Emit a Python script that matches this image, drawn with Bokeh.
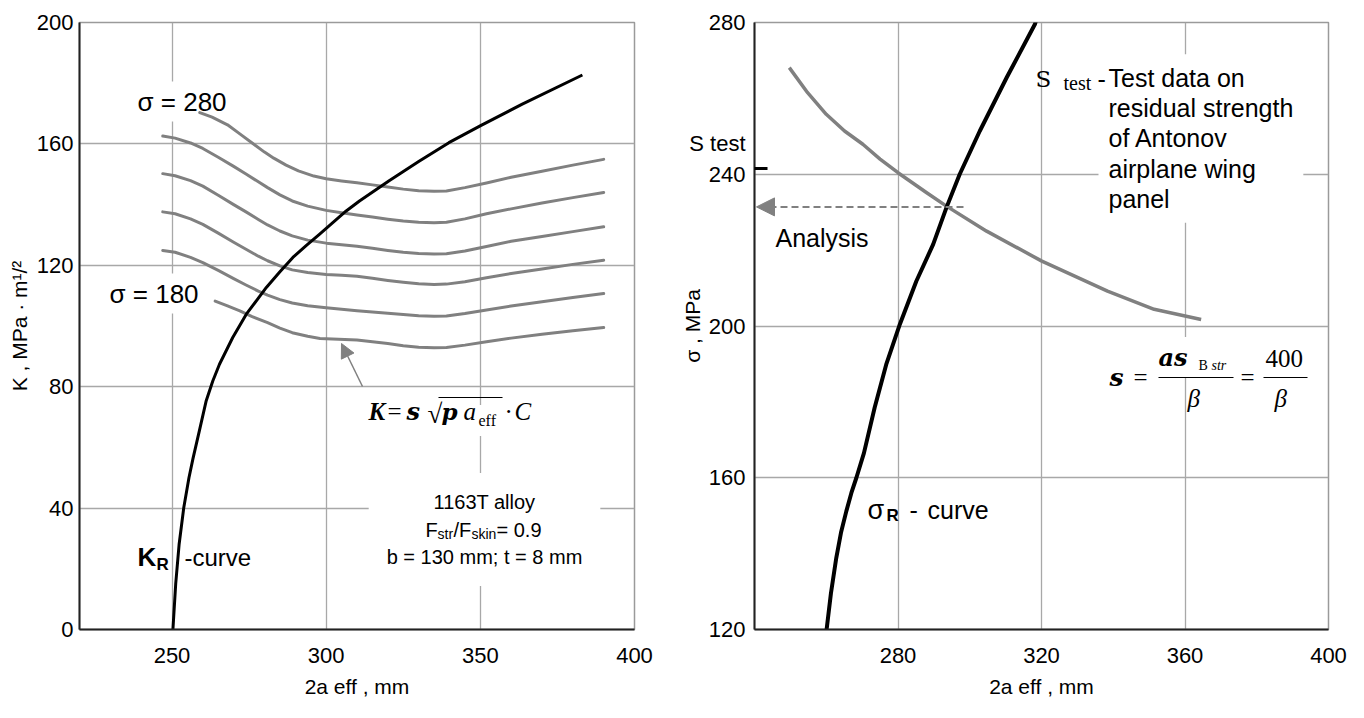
from bokeh.plotting import figure
from bokeh.layouts import row
from bokeh.models import FixedTicker, Arrow, NormalHead, Range1d
from bokeh.embed import file_html
from bokeh.resources import INLINE
from bokeh.core.properties import value

SANS = "Liberation Sans"
SERIF = "Liberation Serif"
DSERIF = "DejaVu Serif"
GRAY = "#808080"
GRID = "#a8a8a8"

# ---------------- left chart data ----------------
L_XRANGE = (220, 400)
L_YRANGE = (0, 200)
l_xticks = [250, 300, 350, 400]
l_yticks = [0, 40, 80, 120, 160, 200]

kr_x = [250.3, 251.2, 252.3, 253.8, 255.5, 256.8, 259.0, 261.1, 263.2, 265.4, 269.7, 274.1,
        280.6, 285.0, 289.2, 293.5, 297.8, 306.5, 310.8, 320.3, 330.0, 339.8, 350.1, 363.6, 383.1]
kr_k = [0, 15, 28, 40, 50, 56.3, 66, 75.4, 81.8, 87.4, 96.2, 103.9,
        112.7, 117.9, 122.6, 126.5, 130.2, 137.9, 141.2, 147.8, 154.2, 160.4, 166.0, 173.1, 182.7]

s280_x = [259, 263, 268, 272, 276, 280, 283, 287, 291, 296, 300, 305, 310, 315, 320, 325,
          330, 335, 339, 345, 352, 360, 370, 380, 390]
s280_k = [170.3, 168.8, 166.3, 163.3, 160.3, 157.3, 155.3, 153.0, 151.1, 149.4, 148.5, 147.8,
          147.2, 146.5, 145.8, 145.1, 144.6, 144.4, 144.5, 145.6, 147.1, 149.0, 151.0, 153.0, 154.9]
s260_x = [247, 251, 256, 260, 265, 270, 274, 278, 281, 285, 289, 294, 300, 305, 310, 315, 320,
          325, 330, 335, 339, 345, 352, 360, 370, 380, 390]
s260_k = [162.6, 161.9, 160.3, 158.5, 155.6, 152.6, 150.1, 147.5, 145.6, 143.2, 141.2, 139.5,
          138.1, 137.3, 136.6, 135.9, 135.2, 134.6, 134.2, 134.0, 134.2, 135.3, 137.0, 138.6,
          140.5, 142.3, 144.0]
s240_x = list(s260_x)
s240_k = [150.2, 149.5, 147.9, 146.1, 143.1, 140.0, 137.6, 135.1, 133.3, 131.3, 129.7, 128.3,
          127.3, 126.8, 126.3, 125.6, 124.9, 124.3, 123.9, 123.7, 123.8, 124.7, 126.2, 127.9,
          129.5, 131.1, 132.7]
s220_x = list(s260_x)
s220_k = [137.6, 137.0, 135.3, 133.5, 130.6, 127.6, 125.3, 123.0, 121.5, 119.8, 118.5, 117.6,
          117.0, 116.7, 116.4, 115.7, 115.0, 114.4, 113.9, 113.7, 113.8, 114.6, 115.9, 117.3,
          118.8, 120.3, 121.7]
s200_x = list(s260_x)
s200_k = [124.9, 124.3, 122.6, 120.9, 118.3, 115.6, 113.5, 111.5, 110.2, 108.7, 107.6, 106.7,
          106.0, 105.5, 105.0, 104.6, 104.2, 103.8, 103.4, 103.2, 103.3, 104.1, 105.3, 106.6,
          108.0, 109.4, 110.7]
s180_x = [264, 268, 272, 276, 281, 285, 289, 294, 298, 304, 310, 315, 320, 325, 330, 335, 339,
          345, 352, 360, 370, 380, 390]
s180_k = [108.2, 106.6, 105.0, 103.1, 101.1, 99.3, 97.8, 96.6, 95.9, 95.6, 95.4, 94.8, 94.2,
          93.5, 93.0, 92.8, 92.9, 93.7, 94.8, 96.0, 97.3, 98.4, 99.5]

# ---------------- right chart data ----------------
R_XRANGE = (240, 400)
R_YRANGE = (120, 280)
r_xticks = [280, 320, 360, 400]
r_yticks = [120, 160, 200, 240, 280]
r_stest_tick = 248          # where the "S test" label sits on the axis

sr_x = [260.1, 261.3, 262.8, 264.1, 265.6, 267.0, 268.4, 270.5, 273.5, 276.7, 280.5, 285.1,
        289.8, 293.5, 297.2, 302.8, 310.3, 318.2, 318.6]
sr_s = [120, 129.5, 138.9, 145.5, 151.2, 156.0, 160.0, 166.5, 178.5, 189.8, 200.4, 211.8,
        221.5, 231.2, 240.0, 251.4, 265.5, 279.6, 281]
sb_x = [249.7, 254.8, 260.0, 265.1, 270.2, 275.0, 280.0, 287.9, 293.5, 304.7, 320.1, 338.4,
        351.4, 364.5]
sb_s = [268.1, 261.5, 255.8, 251.4, 247.9, 244.0, 240.4, 235.2, 231.6, 225.0, 217.1, 209.2,
        204.4, 201.7]

s_test = 241.5        # test value mark
s_analysis = 231.4    # analysis result (arrow level)

# frame geometry (screen px)
FH = 607
L_FW = 555
R_FW = 574
L_LEFT = 79
R_LEFT = 754
TOP = 22
BOT = TOP + FH


def lx(px):
    return L_XRANGE[0] + (px - L_LEFT) * (L_XRANGE[1] - L_XRANGE[0]) / L_FW


def ly(py):
    return L_YRANGE[0] + (BOT - py) * (L_YRANGE[1] - L_YRANGE[0]) / FH


def rx(px):
    return R_XRANGE[0] + (px - R_LEFT) * (R_XRANGE[1] - R_XRANGE[0]) / R_FW


def ry(py):
    return R_YRANGE[0] + (BOT - py) * (R_YRANGE[1] - R_YRANGE[0]) / FH


def style(p, xticks, yticks, ystand):
    p.outline_line_color = "#9a9a9a"
    p.outline_line_width = 1.5
    p.xaxis.ticker = FixedTicker(ticks=xticks)
    p.yaxis.ticker = FixedTicker(ticks=yticks)
    p.xgrid.ticker = FixedTicker(ticks=xticks)
    p.ygrid.ticker = FixedTicker(ticks=yticks)
    p.grid.grid_line_color = GRID
    p.grid.grid_line_width = 1.3
    for ax in (p.xaxis, p.yaxis):
        ax.major_tick_line_color = None
        ax.minor_tick_line_color = None
        ax.major_tick_out = 0
        ax.major_tick_in = 0
        ax.axis_line_color = "#222222"
        ax.axis_line_width = 2
        ax.major_label_text_font = SANS
        ax.major_label_text_font_size = "22px"
        ax.major_label_text_color = "black"
        ax.axis_label_text_font = SANS
        ax.axis_label_text_font_style = "normal"
        ax.axis_label_text_font_size = "21px"
        ax.axis_label_text_color = "black"
    p.xaxis.major_label_standoff = 18
    p.xaxis.axis_label_standoff = 9
    p.yaxis.major_label_standoff = ystand
    p.yaxis.axis_label_standoff = 3


def txt(p, x, y, t, font=SANS, size="25px", fstyle="normal", align="left",
        bg=False, pad=0, lh=1.2):
    """y is the vertical centre of the text (baseline = middle)."""
    kw = {}
    if bg:
        kw = dict(background_fill_color="white", padding=pad)
    p.text(x=[x], y=[y], text=[t], text_font=value(font), text_font_size=value(size),
           text_font_style=fstyle, text_align=align, text_baseline="middle",
           text_line_height=lh, text_color="black", **kw)


# =============== LEFT FIGURE ===============
pl = figure(width=L_LEFT + L_FW + 25, height=TOP + FH + 82,
            x_range=Range1d(*L_XRANGE), y_range=Range1d(*L_YRANGE),
            min_border_left=L_LEFT, min_border_right=25, min_border_top=TOP,
            min_border_bottom=82, output_backend="svg", toolbar_location=None)
style(pl, l_xticks, l_yticks, 6)
pl.yaxis.axis_label = "K , MPa · m¹/²"
pl.xaxis.axis_label = "2a eff , mm"

# text annotations (drawn first so their white boxes only hide grid lines)
txt(pl, lx(137 - 5), ly(101), "σ = 280", size="26px", bg=True, pad=5)
txt(pl, lx(109 - 5), ly(293), "σ = 180", size="26px", bg=True, pad=5)

# alloy block
txt(pl, lx(484), ly(529), "1163T alloy\n\nb = 130 mm; t = 8 mm", font=SANS, size="20px",
    align="center", bg=True, pad=18, lh=1.25)
txt(pl, lx(425), ly(529), "F", font=SANS, size="20px")
txt(pl, lx(437), ly(533), "str", font=SANS, size="14px")
txt(pl, lx(453), ly(529), "/F", font=SANS, size="20px")
txt(pl, lx(471), ly(533), "skin", font=SANS, size="14px")
txt(pl, lx(496), ly(529), "= 0.9", font=SANS, size="20px")

# K formula
txt(pl, lx(478 - 7), ly(420), "eff", font=SERIF, size="16px", bg=True, pad=7)
txt(pl, lx(368), ly(411), "K", font=SERIF, size="25px", fstyle="bold italic")
txt(pl, lx(387), ly(411), "=", font=SERIF, size="25px")
txt(pl, lx(406), ly(411), "s", font=DSERIF, size="24px", fstyle="bold italic")
txt(pl, lx(427), ly(413), "√", font=SERIF, size="27px")
txt(pl, lx(441), ly(411), "p", font=DSERIF, size="23px", fstyle="bold italic")
txt(pl, lx(463), ly(411), "a", font=SERIF, size="25px", fstyle="italic")
txt(pl, lx(504), ly(411), "·", font=SERIF, size="25px")
txt(pl, lx(514), ly(411), "C", font=SERIF, size="25px", fstyle="italic")
pl.segment(x0=[lx(438)], y0=[ly(397)], x1=[lx(502)], y1=[ly(397)], line_color="black",
           line_width=1.2)

# K_R label
txt(pl, lx(137), ly(556), "K", font=SANS, size="26px", fstyle="bold")
txt(pl, lx(156), ly(564), "R", font=SANS, size="17px", fstyle="bold")
txt(pl, lx(184), ly(557), "-curve", font=SANS, size="24px")

# curves
for xs, ks in [(s280_x, s280_k), (s260_x, s260_k), (s240_x, s240_k),
               (s220_x, s220_k), (s200_x, s200_k), (s180_x, s180_k)]:
    pl.line(xs, ks, line_color=GRAY, line_width=3, line_join="round", line_cap="round")
pl.line(kr_x, kr_k, line_color="black", line_width=3, line_join="round")

pl.add_layout(Arrow(end=NormalHead(size=14, fill_color=GRAY, line_color=GRAY),
                    x_start=lx(362), y_start=ly(386), x_end=lx(341), y_end=ly(343),
                    line_color=GRAY, line_width=1.5))

# =============== RIGHT FIGURE ===============
R_BL = R_LEFT - (L_LEFT + L_FW + 25)
pr = figure(width=R_BL + R_FW + 20, height=TOP + FH + 82,
            x_range=Range1d(*R_XRANGE), y_range=Range1d(*R_YRANGE),
            min_border_left=R_BL, min_border_right=20, min_border_top=TOP,
            min_border_bottom=82, output_backend="svg", toolbar_location=None)
style(pr, r_xticks, r_yticks, 9)
pr.yaxis.ticker = FixedTicker(ticks=r_yticks + [r_stest_tick])
pr.yaxis.major_label_overrides = {r_stest_tick: "S test"}
pr.yaxis.axis_label = "σ , MPa"
pr.yaxis.axis_label_standoff = -18
pr.xaxis.axis_label = "2a eff , mm"

# text block (top right)
txt(pr, rx(1108 - 10), ry(138),
    "Test data on\nresidual strength\nof Antonov\nairplane wing\npanel",
    font=SANS, size="25px", bg=True, pad=10, lh=1.075)
txt(pr, rx(1035), ry(78), "S", font=DSERIF, size="23px")
txt(pr, rx(1063), ry(82), "test", font=SERIF, size="20px")
txt(pr, rx(1097), ry(78), "-", font=SANS, size="25px")

txt(pr, rx(775), ry(237), "Analysis", font=SANS, size="25px")

# sigma_R label
txt(pr, rx(867 - 12), ry(509), "σ", font=SANS, size="27px", bg=True, pad=12)
txt(pr, rx(886), ry(515), "R", font=SANS, size="17px", fstyle="bold")
txt(pr, rx(909), ry(509), "-", font=SANS, size="25px")
txt(pr, rx(927), ry(509), "curve", font=SANS, size="25px")

# formula sigma = a s_Bstr / beta = 400 / beta
txt(pr, rx(1158 - 6), ry(357), "as", font=DSERIF, size="24px", fstyle="bold italic",
    bg=True, pad=6)
txt(pr, rx(1109), ry(377), "s", font=DSERIF, size="25px", fstyle="bold italic")
txt(pr, rx(1133), ry(377), "=", font=SERIF, size="25px")
txt(pr, rx(1198), ry(365), "B", font=SERIF, size="14px")
txt(pr, rx(1211), ry(365), "str", font=SERIF, size="14px", fstyle="italic")
txt(pr, rx(1187), ry(398), "β", font=SERIF, size="25px", fstyle="italic")
txt(pr, rx(1240), ry(377), "=", font=SERIF, size="25px")
txt(pr, rx(1265), ry(358), "400", font=SERIF, size="25px")
txt(pr, rx(1274), ry(398), "β", font=SERIF, size="25px", fstyle="italic")
pr.segment(x0=[rx(1158), rx(1263)], y0=[ry(377), ry(377)], x1=[rx(1233), rx(1307)],
           y1=[ry(377), ry(377)], line_color="black", line_width=1.2)

# curves
pr.line(sb_x, sb_s, line_color=GRAY, line_width=3.5, line_join="round")
pr.line(sr_x, sr_s, line_color="black", line_width=4, line_join="round")

pr.add_layout(Arrow(end=NormalHead(size=18, fill_color=GRAY, line_color=GRAY),
                    x_start=rx(963), y_start=s_analysis, x_end=rx(756), y_end=s_analysis,
                    line_color=GRAY, line_width=2, line_dash="7 4"))
pr.add_layout(Arrow(end=None, x_start=rx(745), y_start=s_test, x_end=rx(767), y_end=s_test,
                    line_color="black", line_width=3))

layout = row(pl, pr)
open("out.html", "w").write(file_html(layout, INLINE))
